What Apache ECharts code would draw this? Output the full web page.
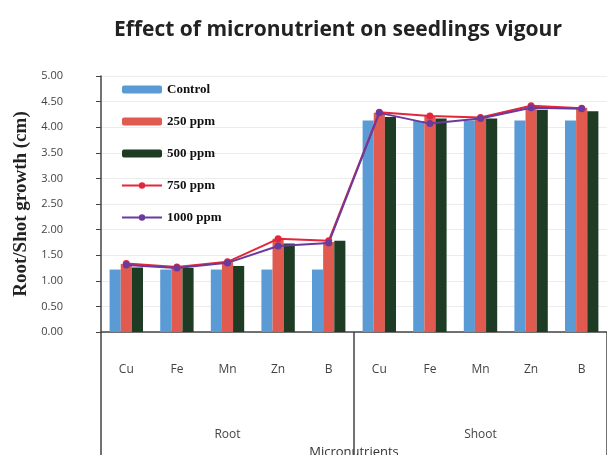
<!DOCTYPE html>
<html>
<head>
<meta charset="utf-8">
<script src="https://cdn.jsdelivr.net/npm/echarts@6/dist/echarts.min.js"></script>
<style>
  html, body { margin: 0; padding: 0; background: #fff; }
  #chart { width: 607px; height: 455px; }
</style>
</head>
<body>
<div id="chart"></div>
<script>
// data
const elements = ['Cu', 'Fe', 'Mn', 'Zn', 'B', 'Cu', 'Fe', 'Mn', 'Zn', 'B']
const parts = ['Root', 'Shoot']
const control = [1.22, 1.22, 1.22, 1.22, 1.22, 4.13, 4.12, 4.13, 4.13, 4.13]
const ppm250 = [1.33, 1.25, 1.36, 1.82, 1.76, 4.28, 4.22, 4.20, 4.38, 4.38]
const ppm500 = [1.26, 1.25, 1.29, 1.73, 1.78, 4.20, 4.17, 4.17, 4.34, 4.31]
const ppm750 = [1.34, 1.27, 1.37, 1.82, 1.78, 4.29, 4.22, 4.19, 4.42, 4.37]
const ppm1000 = [1.31, 1.25, 1.35, 1.68, 1.74, 4.28, 4.07, 4.17, 4.38, 4.36]

const chart = echarts.init(document.getElementById('chart'))

const barBase = {
  type: 'bar',
  barGap: '0%',
  barCategoryGap: '34%',
  xAxisIndex: 0
}
const lineBase = {
  type: 'line',
  symbol: 'circle',
  symbolSize: 7,
  xAxisIndex: 0,
  lineStyle: { width: 2 }
}

chart.setOption({
  animation: false,
  title: {
    text: 'Effect of micronutrient on seedlings vigour',
    left: 333,
    textAlign: 'center',
    top: 15,
    textStyle: { fontFamily: 'Open Sans', fontSize: 21, fontWeight: 'bold', color: '#222' }
  },
  legend: {
    orient: 'vertical',
    left: 116,
    top: 78,
    itemWidth: 40,
    itemHeight: 8,
    itemGap: 19,
    textStyle: { fontFamily: 'Liberation Serif', fontWeight: 'bold', fontSize: 13, color: '#111' },
    data: ['Control', '250 ppm', '500 ppm', '750 ppm', '1000 ppm']
  },
  grid: { left: 101, right: 0, top: 76, bottom: 123, outerBoundsMode: 'none' },
  xAxis: [
    {
      type: 'category',
      data: elements,
      axisLine: { lineStyle: { color: '#444', width: 1.5 } },
      axisTick: { show: false },
      axisLabel: { margin: 32, fontFamily: 'Open Sans', fontSize: 12, color: '#444' }
    },
    {
      type: 'category',
      data: parts,
      position: 'bottom',
      axisLine: { show: false },
      axisTick: { show: true, length: 125, interval: 0, lineStyle: { color: '#444', width: 1.5 } },
      axisLabel: { margin: 97, fontFamily: 'Open Sans', fontSize: 12, color: '#444' },
      name: 'Micronutrients',
      nameLocation: 'middle',
      nameGap: 110,
      nameTextStyle: { fontFamily: 'Open Sans', fontSize: 13, color: '#333' }
    }
  ],
  yAxis: {
    type: 'value',
    min: 0,
    max: 5,
    interval: 0.5,
    name: 'Root/Shot growth (cm)',
    nameLocation: 'middle',
    nameGap: 67,
    nameTextStyle: { fontFamily: 'Liberation Serif', fontWeight: 'bold', fontSize: 19, color: '#222' },
    axisLine: { show: true, lineStyle: { color: '#444', width: 1.5 } },
    axisTick: { show: true, length: 5, lineStyle: { color: '#444' } },
    axisLabel: {
      margin: 38,
      fontFamily: 'Open Sans',
      fontSize: 11,
      color: '#444',
      formatter: v => v.toFixed(2)
    },
    splitLine: { lineStyle: { color: '#ececec' } }
  },
  series: [
    Object.assign({}, barBase, { name: 'Control', data: control, itemStyle: { color: '#5b9bd5' } }),
    Object.assign({}, barBase, { name: '250 ppm', data: ppm250, itemStyle: { color: '#e05a4f' } }),
    Object.assign({}, barBase, { name: '500 ppm', data: ppm500, itemStyle: { color: '#1e3b24' } }),
    Object.assign({}, lineBase, { name: '750 ppm', data: ppm750, itemStyle: { color: '#e3263a' } }),
    Object.assign({}, lineBase, { name: '1000 ppm', data: ppm1000, itemStyle: { color: '#6a3a9e' } })
  ]
})
</script>
</body>
</html>
